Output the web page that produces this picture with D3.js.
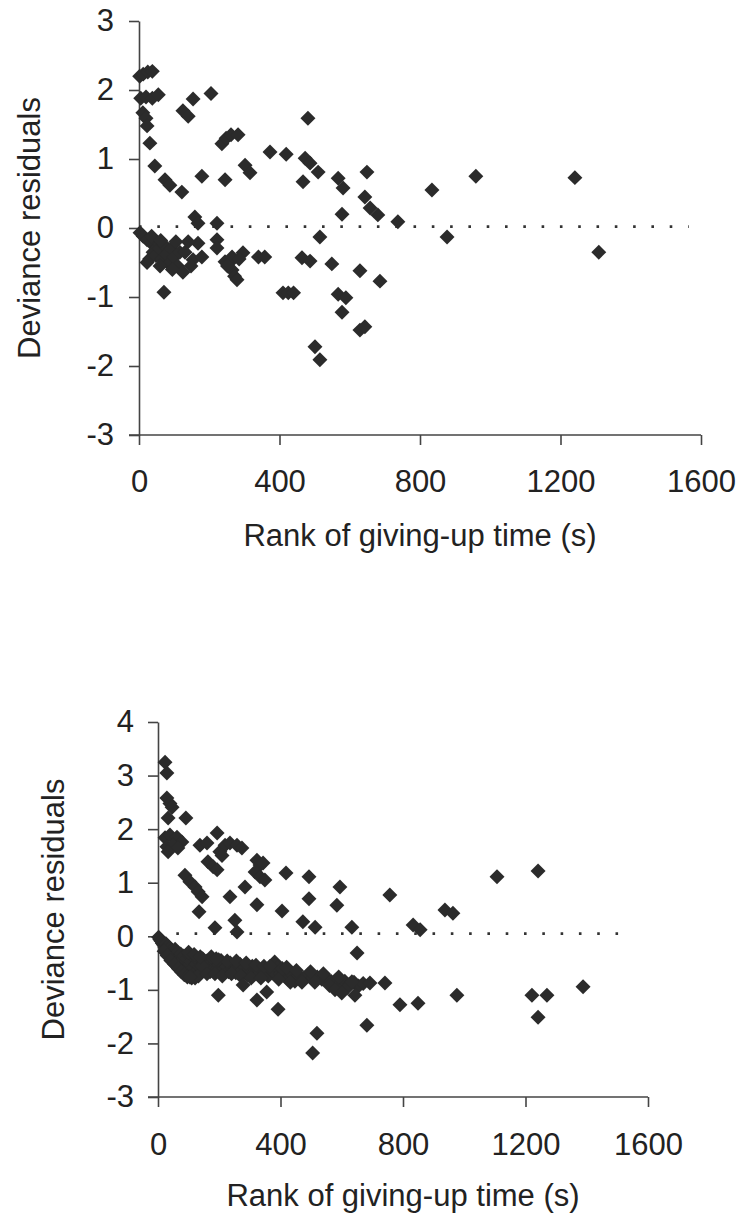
<!DOCTYPE html>
<html lang="en">
<head>
<meta charset="UTF-8" />
<title>Deviance residuals vs rank of giving-up time</title>
<style>
  body { margin: 0; background: #fff; }
  svg { display: block; background: #fff; }
  text { font-family: "Liberation Sans", Arial, Helvetica, sans-serif; fill: #222; }
  .axis path, .axis line { stroke: #444; stroke-width: 1.6px; }
  .axis text { font-size: 31px; fill: #222; }
  .title { font-size: 31px; }
  .ref { stroke: #333; stroke-width: 2.6px; stroke-dasharray: 2.6 15.7; fill: none; }
  .pt { fill: #2b2b2b; }
</style>
</head>
<body>
<script src="https://d3js.org/d3.v7.min.js"></script>
<script>
// ---- data: [rank of giving-up time, deviance residual] ----
const xTicks = [0, 400, 800, 1200, 1600];
const topYTicks = [-3, -2, -1, 0, 1, 2, 3];
const bottomYTicks = [-3, -2, -1, 0, 1, 2, 3, 4];
const xTitle = "Rank of giving-up time (s)";
const yTitle = "Deviance residuals";

// upper panel
const topPoints = [
  [2, 2.20], [12, 2.23], [25, 2.26], [38, 2.27],
  [5, 1.88], [20, 1.90], [38, 1.88], [55, 1.93],
  [11, 1.67], [20, 1.59], [23, 1.48], [31, 1.23],
  [45, 0.90], [74, 0.70], [88, 0.62], [122, 0.52], [179, 0.75], [245, 0.70],
  [302, 0.91], [316, 0.80],
  [125, 1.70], [140, 1.62], [154, 1.87], [205, 1.95],
  [236, 1.22], [248, 1.30], [262, 1.35], [282, 1.35],
  [373, 1.10], [419, 1.07],
  [481, 1.59], [473, 1.01], [487, 0.94], [510, 0.81], [467, 0.67],
  [567, 0.72], [581, 0.58], [649, 0.81], [643, 0.45], [658, 0.29], [680, 0.19],
  [578, 0.20], [737, 0.09], [834, 0.55], [959, 0.75], [1241, 0.73],
  [159, 0.16], [168, 0.07], [222, 0.07],
  [515, -0.13], [877, -0.13], [1309, -0.35],
  [464, -0.43], [487, -0.48], [549, -0.52], [629, -0.62], [686, -0.77],
  [410, -0.94], [425, -0.94], [440, -0.94],
  [567, -0.96], [589, -1.01], [578, -1.22], [629, -1.48], [643, -1.43],
  [501, -1.72], [515, -1.91],
  [340, -0.42], [358, -0.42],
  [3, -0.07], [12, -0.12], [23, -0.17], [35, -0.22], [51, -0.27], [23, -0.50],
  [30, -0.45], [40, -0.35], [48, -0.40], [58, -0.30], [66, -0.45], [72, -0.25],
  [78, -0.38], [85, -0.52], [92, -0.30], [100, -0.42], [105, -0.20], [110, -0.55],
  [116, -0.35], [125, -0.64], [71, -0.93], [131, -0.35], [154, -0.46], [168, -0.22],
  [179, -0.42], [222, -0.17], [222, -0.29], [245, -0.49], [258, -0.50], [265, -0.42],
  [296, -0.36], [285, -0.45], [265, -0.61], [272, -0.70], [279, -0.75], [252, -0.55],
  [60, -0.55], [95, -0.60], [140, -0.20], [148, -0.55], [36, -0.12], [62, -0.18]
];

// lower panel, positive residuals
const bottomUpper = [
  [23, 3.25], [29, 3.05], [29, 2.58], [39, 2.48], [46, 2.41], [33, 2.21], [91, 2.21],
  [23, 1.84], [39, 1.89], [62, 1.85], [78, 1.76], [29, 1.67], [49, 1.70], [65, 1.65], [33, 1.58],
  [137, 1.70], [160, 1.74], [193, 1.93], [202, 1.58], [219, 1.70], [235, 1.74],
  [258, 1.70], [274, 1.65], [209, 1.51],
  [163, 1.39], [180, 1.30], [193, 1.24],
  [323, 1.42], [333, 1.33], [343, 1.37], [317, 1.20], [333, 1.11], [349, 1.05],
  [88, 1.14], [104, 1.02], [121, 0.92], [131, 0.83], [144, 0.74],
  [235, 0.74], [284, 0.92], [323, 0.59], [134, 0.46], [186, 0.16], [251, 0.30], [258, 0.08],
  [418, 1.18], [493, 1.11], [493, 0.70], [405, 0.47], [473, 0.27], [513, 0.17],
  [594, 0.92], [584, 0.58], [633, 0.17], [757, 0.77], [833, 0.21], [856, 0.12],
  [937, 0.49], [963, 0.43], [1107, 1.11], [1241, 1.22]
];

// lower panel, the dense band of negative residuals
const bottomBand = [
  [2, -0.02], [6, -0.06], [10, -0.09], [14, -0.13], [18, -0.16], [22, -0.20], [26, -0.14],
  [28, -0.24], [32, -0.18], [34, -0.28], [38, -0.22], [40, -0.33], [44, -0.26], [46, -0.38],
  [50, -0.30], [52, -0.42], [56, -0.24], [58, -0.35], [62, -0.46], [64, -0.30], [68, -0.40],
  [70, -0.52], [74, -0.33], [78, -0.45], [80, -0.58], [84, -0.37], [88, -0.50], [90, -0.64],
  [94, -0.42], [98, -0.55], [100, -0.70], [104, -0.36], [108, -0.47], [112, -0.60],
  [116, -0.72], [120, -0.41], [124, -0.52], [128, -0.65], [132, -0.45], [136, -0.57],
  [140, -0.68], [146, -0.42], [150, -0.50], [156, -0.62], [160, -0.46], [166, -0.55],
  [170, -0.66], [176, -0.48], [182, -0.58], [188, -0.50], [194, -0.61], [200, -0.53],
  [206, -0.45], [212, -0.62], [218, -0.52], [224, -0.57], [230, -0.66], [236, -0.50],
  [242, -0.60], [248, -0.55], [254, -0.68], [260, -0.58], [268, -0.52], [276, -0.63],
  [284, -0.58], [292, -0.72], [300, -0.62], [308, -0.56], [316, -0.66], [324, -0.60],
  [332, -0.70], [340, -0.63], [350, -0.66], [360, -0.74], [370, -0.64], [381, -0.48],
  [380, -0.68], [390, -0.58], [400, -0.70], [412, -0.66], [424, -0.80], [436, -0.70],
  [447, -0.84], [460, -0.73], [477, -0.78], [490, -0.72], [505, -0.78], [520, -0.76],
  [535, -0.80], [550, -0.78], [565, -0.84], [580, -0.82], [595, -0.88], [610, -0.84],
  [625, -0.90], [640, -0.86], [655, -0.93], [670, -0.88], [82, -0.67], [121, -0.78],
  [20, -0.28], [30, -0.36], [42, -0.45], [54, -0.52], [66, -0.60], [76, -0.66],
  [86, -0.72], [96, -0.76], [110, -0.78], [132, -0.74], [144, -0.56], [160, -0.70],
  [174, -0.38], [186, -0.70], [198, -0.44], [210, -0.74], [226, -0.46], [240, -0.70],
  [256, -0.46], [270, -0.74], [288, -0.50], [304, -0.78], [320, -0.54], [336, -0.78],
  [346, -0.56], [366, -0.56], [394, -0.80], [406, -0.60], [420, -0.58], [432, -0.86],
  [452, -0.64], [470, -0.86], [498, -0.66], [512, -0.86], [540, -0.70], [560, -0.92],
  [590, -0.76], [618, -0.96], [100, -0.30], [118, -0.34], [138, -0.38], [190, -0.42]
];

// lower panel, scattered negative residuals
const bottomLower = [
  [650, -0.31], [692, -0.87], [741, -0.87], [790, -1.28], [849, -1.25], [976, -1.10],
  [1221, -1.10], [1270, -1.10], [1241, -1.51], [1388, -0.94], [682, -1.66],
  [197, -1.10], [278, -0.91], [323, -1.19], [355, -1.04], [392, -1.36],
  [519, -1.81], [505, -2.18],
  [578, -1.00], [600, -1.06], [633, -0.85], [643, -1.10], [104, -0.76]
];

// dotted zero reference line
const topRef = [[0, 0.02], [1565, 0.02]];
const bottomRef = [[0, 0.05], [1540, 0.05]];

const svg = d3.select("body").append("svg")
  .attr("width", 742)
  .attr("height", 1217);

const diamond = d3.symbol().type(d3.symbolSquare).size(112);

function drawPanel(p) {
  const x = d3.scaleLinear().domain([0, 1600]).range([p.left, p.right]);
  const y = d3.scaleLinear().domain(p.yDomain).range([p.bottom, p.top]);
  const g = svg.append("g");

  // axes (plain hyphen minus and no thousands separator, as in the figure)
  g.append("g")
    .attr("class", "axis")
    .attr("transform", `translate(0,${p.bottom})`)
    .call(d3.axisBottom(x).tickValues(xTicks).tickSize(10).tickSizeOuter(0)
      .tickPadding(p.xPad).tickFormat(d => String(d)))
    .call(a => a.select(".domain").attr("d", `M${p.left - 10},0H${p.right}`));

  g.append("g")
    .attr("class", "axis")
    .attr("transform", `translate(${p.left},0)`)
    .call(d3.axisLeft(y).tickValues(p.yTicks).tickSize(10).tickSizeOuter(0)
      .tickPadding(p.yPad).tickFormat(d => String(d)));

  g.selectAll(".axis text").style("font-family", "'Liberation Sans', Arial, sans-serif");

  // dotted reference line at zero
  g.append("path")
    .attr("class", "ref")
    .attr("d", d3.line().x(d => x(d[0])).y(d => y(d[1]))(p.ref));

  // points
  g.append("g")
    .selectAll("path")
    .data(p.points)
    .join("path")
    .attr("class", "pt")
    .attr("d", diamond)
    .attr("transform", d => `translate(${x(d[0])},${y(d[1])}) rotate(45)`);

  // titles
  g.append("text")
    .attr("class", "title")
    .attr("text-anchor", "middle")
    .attr("x", (p.left + p.right) / 2)
    .attr("y", p.xTitleY)
    .text(xTitle);

  g.append("text")
    .attr("class", "title")
    .attr("text-anchor", "middle")
    .attr("transform", `translate(${p.yTitleX},${(p.top + p.bottom) / 2}) rotate(-90)`)
    .text(yTitle);
}

drawPanel({
  left: 139, right: 701, top: 21, bottom: 435,
  yDomain: [-3, 3], yTicks: topYTicks,
  xPad: 25, yPad: 15,
  points: topPoints, ref: topRef,
  xTitleY: 546, yTitleX: 40
});

drawPanel({
  left: 158, right: 648, top: 722, bottom: 1097,
  yDomain: [-3, 4], yTicks: bottomYTicks,
  xPad: 26, yPad: 14,
  points: bottomUpper.concat(bottomBand, bottomLower), ref: bottomRef,
  xTitleY: 1206, yTitleX: 64
});
</script>
</body>
</html>
